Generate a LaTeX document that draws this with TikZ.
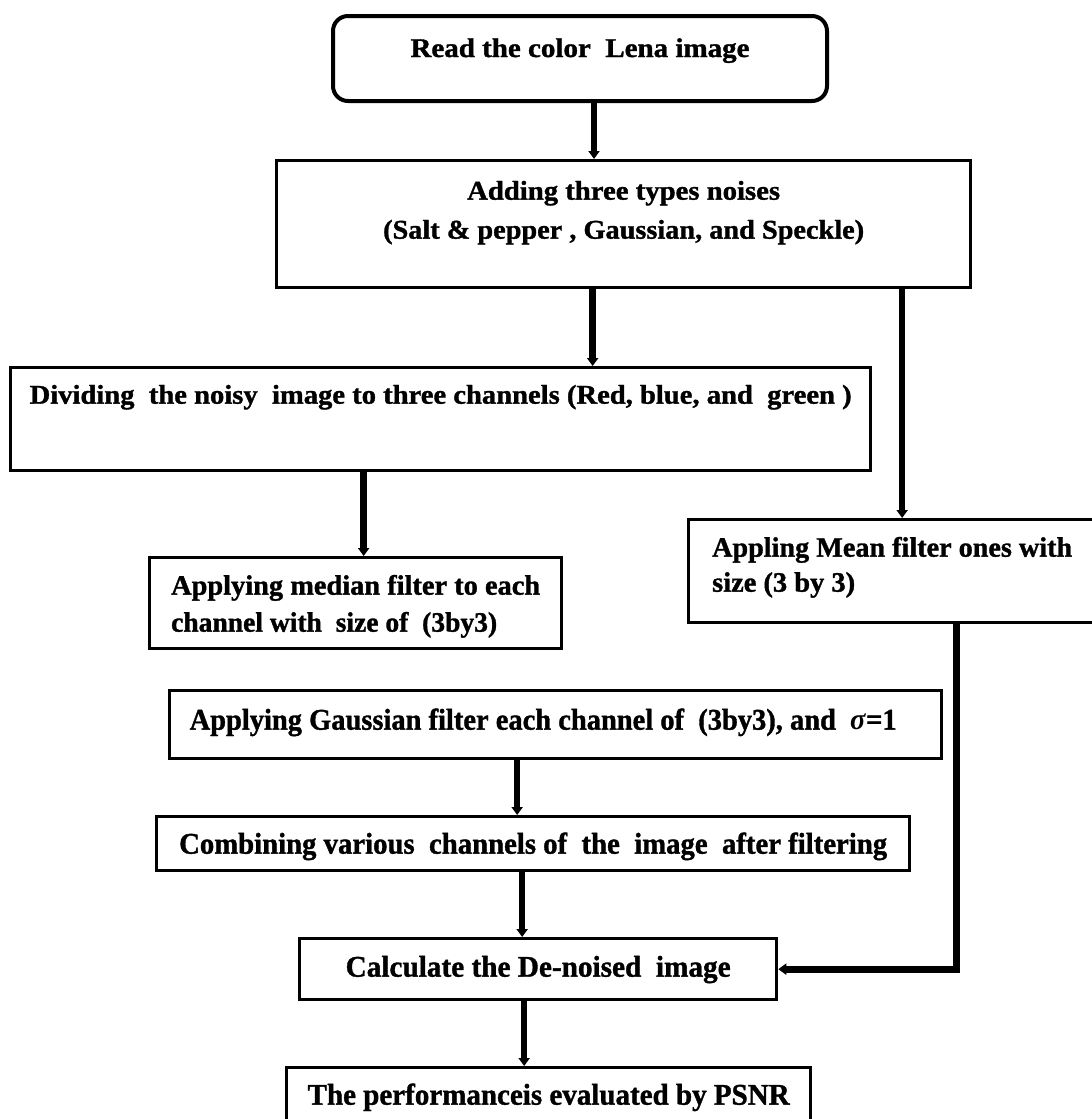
\documentclass[tikz,border=0pt]{standalone}
\usepackage{fontspec}
\setmainfont{Liberation Serif}[BoldFeatures={FakeBold=1.2}]
\usepackage{graphicx}
\usetikzlibrary{arrows.meta}

\newlength{\px}
\setlength{\px}{0.5pt}
% squeeze a line of text to a given width (in px), keeping its height
\newcommand{\sq}[2]{\resizebox{#1\px}{\height}{#2}}

\begin{document}
\begin{tikzpicture}[x=0.5pt,y=-0.5pt,
    font=\bfseries,
    stepbox/.style={draw,line width=1.65pt,inner sep=0pt,anchor=north west},
    flow/.style={line width=3.25pt,-{Triangle[length=4pt,width=5.5pt]}}]
    \useasboundingbox (0,0) rectangle (1092,1119);

    % Boxes, from top to bottom.
    \node[stepbox,rounded corners=7.5pt,line width=2pt,minimum width=494\px,
        text height=20.5pt,text depth=22pt] (read) at (331,14)
        {\fontsize{13.5}{16}\selectfont\sq{339}{Read the color~ Lena image}};
    \node[stepbox,minimum width=694\px,text height=19.5pt,text depth=44pt]
        (noise) at (275,159)
        {\fontsize{13.5}{19.5}\selectfont\begin{tabular}[t]{@{}c@{}}
            \sq{313}{Adding three types noises}\\
            \sq{481}{(Salt \& pepper , Gaussian, and Speckle)}
        \end{tabular}};
    \node[stepbox,minimum width=860\px,text height=18pt,text depth=33.5pt]
        (divide) at (9,366)
        {\fontsize{13.5}{16}\selectfont\sq{822}{Dividing~ the noisy~ image to
            three channels (Red, blue, and~ green )}};
    \node[stepbox,minimum width=407\px,text height=18.5pt,text depth=33pt]
        (mean) at (687,518)
        {\fontsize{14}{17.5}\selectfont\begin{tabular}[t]{@{}l@{}}
            \sq{360}{Appling Mean filter ones with}\\
            \sq{143}{size (3 by 3)}
        \end{tabular}};
    \node[stepbox,minimum width=412\px,text height=18.5pt,text depth=27pt]
        (median) at (148,556)
        {\fontsize{14}{18.5}\selectfont\begin{tabular}[t]{@{}l@{}}
            \sq{369}{Applying median filter to each}\\
            \sq{326}{channel with~ size of~ (3by3)}
        \end{tabular}};
    \node[stepbox,minimum width=772\px,text height=19.5pt,text depth=14.5pt]
        (gauss) at (168,689)
        {\fontsize{15}{18}\selectfont\sq{707}{Applying Gaussian filter each
            channel of~ (3by3), and~ \textit{σ}=1}\hspace*{25\px}};
    \node[stepbox,minimum width=753\px,text height=18.5pt,text depth=8.5pt]
        (combine) at (155,815)
        {\fontsize{15}{18}\selectfont\sq{708}{Combining various~ channels
            of~ the~ image~ after filtering}};
    \node[stepbox,minimum width=477\px,text height=19pt,text depth=11.5pt]
        (calc) at (298,937)
        {\fontsize{15}{18}\selectfont\sq{385}{Calculate the De-noised~ image}};
    \node[stepbox,minimum width=524\px,text height=18.5pt,text depth=16pt]
        (psnr) at (285,1066)
        {\fontsize{15}{18}\selectfont\sq{482}{The performanceis evaluated by PSNR}};

    % Connectors.
    \draw[flow] ([xshift=7pt]read.south) -- ([xshift=7pt]read.south |- noise.north);
    \draw[flow] ([xshift=-15.5pt]noise.south)
        -- ([xshift=-15.5pt]noise.south |- divide.north);
    \draw[flow] ([xshift=5pt]mean.north |- noise.south) -- ([xshift=5pt]mean.north);
    \draw[flow] ([xshift=4pt]median.north |- divide.south) -- ([xshift=4pt]median.north);
    \draw[flow] ([xshift=-8pt]combine.north |- gauss.south) -- ([xshift=-8pt]combine.north);
    \draw[flow] ([xshift=-8pt]calc.north |- combine.south) -- ([xshift=-8pt]calc.north);
    \draw[flow] ([xshift=-7pt]calc.south) -- ([xshift=-7pt]calc.south |- psnr.north);
    \draw[flow,line width=3.5pt] ([xshift=32pt]mean.south) |- (calc.east);
\end{tikzpicture}
\end{document}
